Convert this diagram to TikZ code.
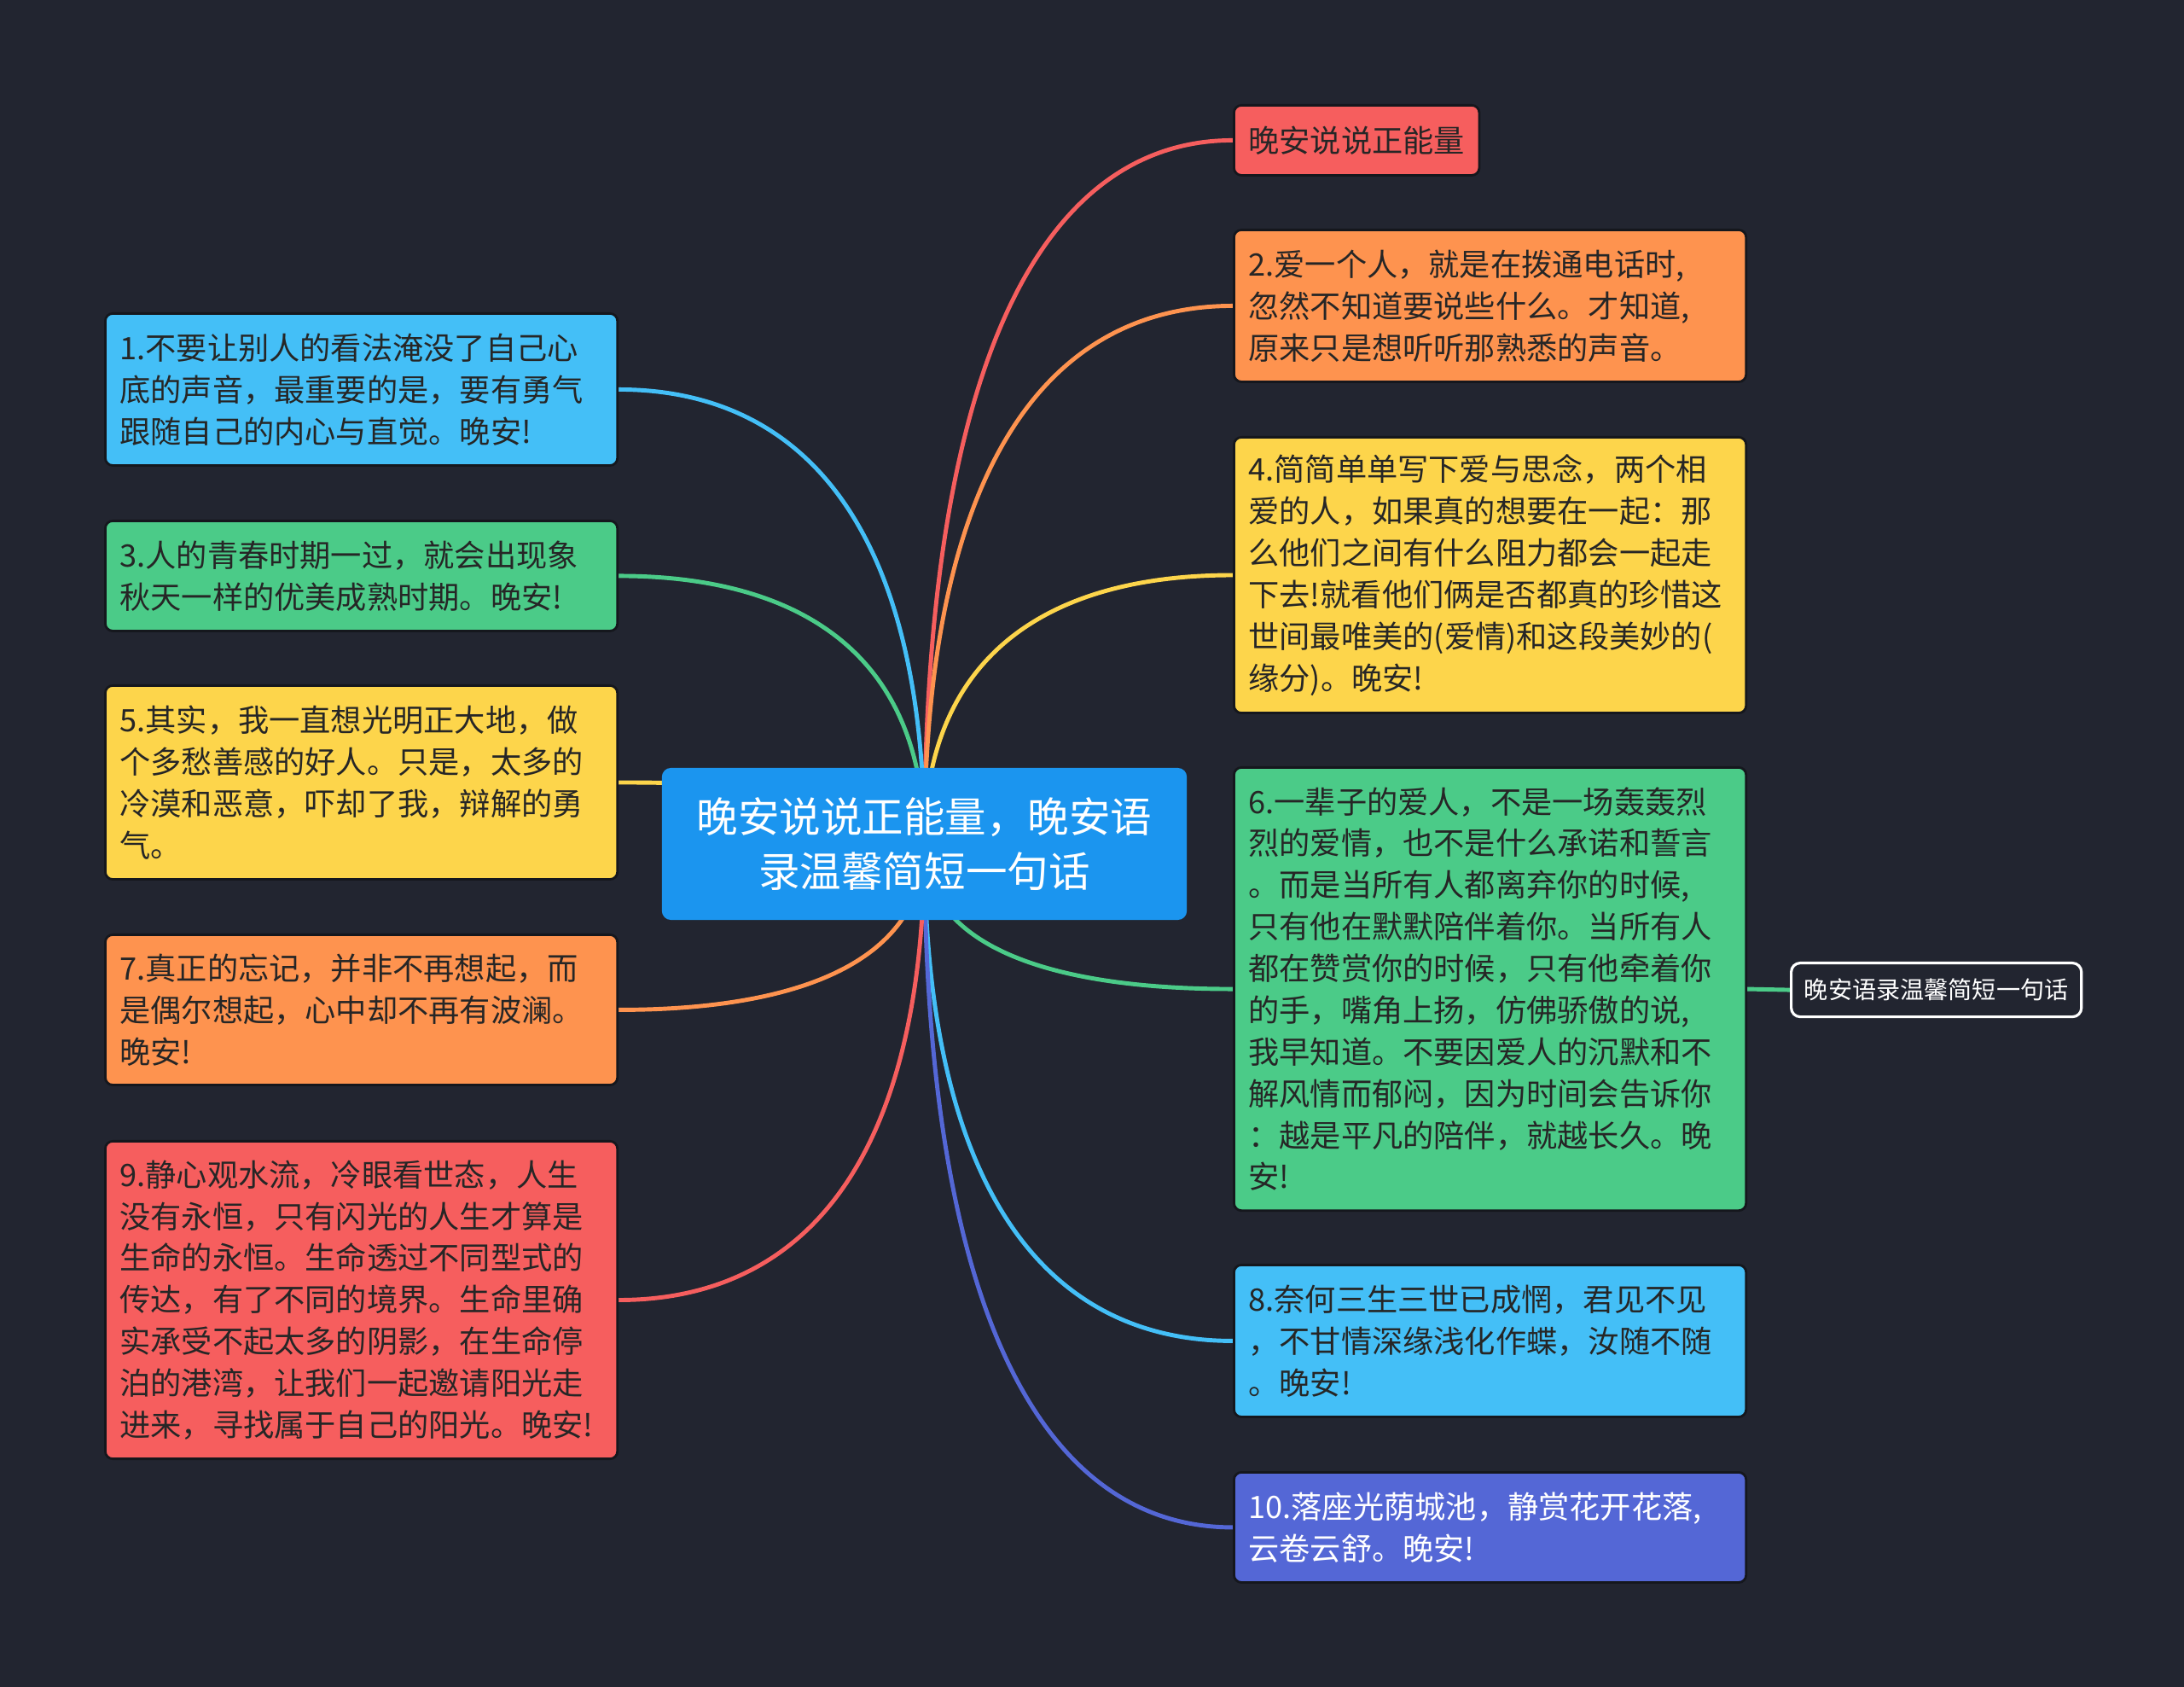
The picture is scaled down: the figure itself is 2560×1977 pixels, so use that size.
\documentclass[tikz,border=0pt]{standalone}
\usepackage{fontspec}
\setmainfont{Noto Sans CJK SC}
\usetikzlibrary{calc}

\definecolor{bgc}{HTML}{222530}
\definecolor{edgec}{HTML}{15171D}
\definecolor{inkc}{HTML}{262626}
\definecolor{rootc}{HTML}{1B95EF}
\definecolor{redc}{HTML}{F65E5E}
\definecolor{orangec}{HTML}{FE934F}
\definecolor{yellowc}{HTML}{FDD54B}
\definecolor{greenc}{HTML}{4BCB88}
\definecolor{skyc}{HTML}{44BFF7}
\definecolor{indigoc}{HTML}{5467D6}

\pgfdeclarelayer{bgl}
\pgfdeclarelayer{links}
\pgfsetlayers{bgl,links,main}

% curved branch from the root centre to a topic edge
\newcommand{\twig}[3]{%
  \draw[link, #3] let \p1=(#1), \p2=(#2) in
    (\p1) .. controls (\x1, {\y2+0.3*(\y1-\y2)}) and ({\x1+0.4*(\x2-\x1)}, \y2) .. (\p2);}

\begin{document}
\begin{tikzpicture}[
    x=0.01cm, y=-0.01cm,
    link/.style={line width=1.4pt},
    topic/.style={anchor=north west, rounded corners=2.5pt, draw=edgec, line width=0.8pt,
        text=inkc, inner xsep=0.17cm, inner ysep=0pt, align=left,
        font=\fontsize{10.3}{13.9}\selectfont},
    para/.style={topic, text width=5.66cm, minimum height=#1},
    root/.style={fill=rootc, text=white, rounded corners=3pt, align=center,
        minimum width=6.15cm, minimum height=1.78cm, inner sep=0pt,
        font=\fontsize{13.8}{18.4}\selectfont},
    leaf/.style={anchor=north west, draw=white, line width=0.9pt, fill=bgc, text=white,
        rounded corners=3pt, minimum width=3.4cm, minimum height=0.63cm, inner sep=0pt,
        font=\fontsize{8}{10}\selectfont},
]

\begin{pgfonlayer}{bgl}
\fill[bgc] (0,0) rectangle (2560,1977);
\end{pgfonlayer}

% --- centre ---
\node[root] (root) at (1083.5,989) {晚安说说正能量，晚安语\\录温馨简短一句话};

% --- right side ---
\node[topic, fill=redc, minimum height=0.82cm] (n0) at (1445,122) {晚安说说正能量};
\node[para=1.78cm, fill=orangec] (n2) at (1445,268)
    {2.爱一个人，就是在拨通电话时,\\忽然不知道要说些什么。才知道,\\原来只是想听听那熟悉的声音。};
\node[para=3.23cm, fill=yellowc] (n4) at (1445,511)
    {4.简简单单写下爱与思念，两个相\\爱的人，如果真的想要在一起：那\\么他们之间有什么阻力都会一起走\\下去!就看他们俩是否都真的珍惜这\\世间最唯美的(爱情)和这段美妙的(\\缘分)。晚安!};
\node[para=5.19cm, fill=greenc] (n6) at (1445,898)
    {6.一辈子的爱人，不是一场轰轰烈\\烈的爱情，也不是什么承诺和誓言\\。而是当所有人都离弃你的时候,\\只有他在默默陪伴着你。当所有人\\都在赞赏你的时候，只有他牵着你\\的手，嘴角上扬，仿佛骄傲的说,\\我早知道。不要因爱人的沉默和不\\解风情而郁闷，因为时间会告诉你\\：越是平凡的陪伴，就越长久。晚\\安!};
\node[para=1.78cm, fill=skyc] (n8) at (1445,1481)
    {8.奈何三生三世已成惘，君见不见\\，不甘情深缘浅化作蝶，汝随不随\\。晚安!};
\node[para=1.29cm, fill=indigoc, text=white] (n10) at (1445,1724)
    {10.落座光荫城池，静赏花开花落,\\云卷云舒。晚安!};
\node[leaf] (leaf) at (2098,1127) {晚安语录温馨简短一句话};

% --- left side ---
\node[para=1.78cm, fill=skyc] (n1) at (122,366)
    {1.不要让别人的看法淹没了自己心\\底的声音，最重要的是，要有勇气\\跟随自己的内心与直觉。晚安!};
\node[para=1.29cm, fill=greenc] (n3) at (122,609)
    {3.人的青春时期一过，就会出现象\\秋天一样的优美成熟时期。晚安!};
\node[para=2.27cm, fill=yellowc] (n5) at (122,802)
    {5.其实，我一直想光明正大地，做\\个多愁善感的好人。只是，太多的\\冷漠和恶意，吓却了我，辩解的勇\\气。};
\node[para=1.76cm, fill=orangec] (n7) at (122,1094)
    {7.真正的忘记，并非不再想起，而\\是偶尔想起，心中却不再有波澜。\\晚安!};
\node[para=3.72cm, fill=redc] (n9) at (122,1336)
    {9.静心观水流，冷眼看世态，人生\\没有永恒，只有闪光的人生才算是\\生命的永恒。生命透过不同型式的\\传达，有了不同的境界。生命里确\\实承受不起太多的阴影，在生命停\\泊的港湾，让我们一起邀请阳光走\\进来，寻找属于自己的阳光。晚安!};

% --- branches ---
\begin{pgfonlayer}{links}
\twig{root.center}{n0.west}{redc}
\twig{root.center}{n2.west}{orangec}
\twig{root.center}{n4.west}{yellowc}
\twig{root.center}{n6.west}{greenc}
\twig{root.center}{n8.west}{skyc}
\twig{root.center}{n10.west}{indigoc}
\twig{root.center}{n1.east}{skyc}
\twig{root.center}{n3.east}{greenc}
\twig{root.center}{n5.east}{yellowc}
\twig{root.center}{n7.east}{orangec}
\twig{root.center}{n9.east}{redc}
\draw[link, greenc] (n6.east) -- (leaf.west);
\end{pgfonlayer}

\end{tikzpicture}
\end{document}
